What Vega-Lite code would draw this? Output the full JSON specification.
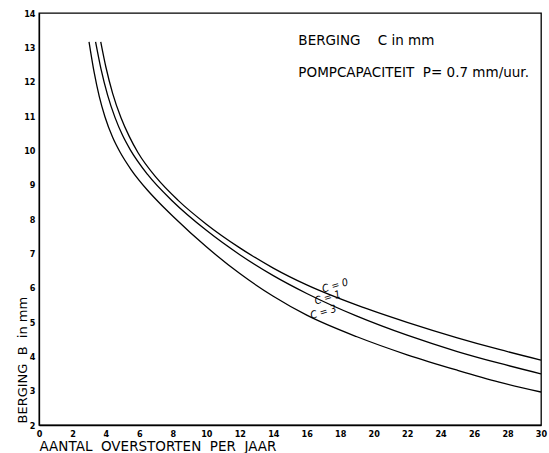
{
  "$schema": "https://vega.github.io/schema/vega-lite/v6.json",
  "width": 502,
  "height": 412,
  "autosize": {"type": "none"},
  "padding": {"left": 39, "top": 13, "right": 8, "bottom": 28},
  "background": "white",
  "config": {
    "view": {"stroke": "black", "strokeWidth": 1.3},
    "font": "DejaVu Sans",
    "axis": {"labelOverlap": false, "labelSeparation": 0, "labelBound": false}
  },
  "datasets": {
    "curves": [
      {"c": "C=0", "x": 3.69, "b": 13.16}, {"c": "C=0", "x": 4.0, "b": 12.42}, {"c": "C=0", "x": 4.4, "b": 11.66},
      {"c": "C=0", "x": 4.9, "b": 10.95}, {"c": "C=0", "x": 5.4, "b": 10.4}, {"c": "C=0", "x": 5.92, "b": 9.93},
      {"c": "C=0", "x": 7, "b": 9.21}, {"c": "C=0", "x": 8.3, "b": 8.55}, {"c": "C=0", "x": 10, "b": 7.85},
      {"c": "C=0", "x": 12, "b": 7.16}, {"c": "C=0", "x": 14, "b": 6.57}, {"c": "C=0", "x": 16, "b": 6.08},
      {"c": "C=0", "x": 19, "b": 5.49}, {"c": "C=0", "x": 22, "b": 4.99}, {"c": "C=0", "x": 25, "b": 4.54},
      {"c": "C=0", "x": 27.5, "b": 4.2}, {"c": "C=0", "x": 30, "b": 3.89},
      {"c": "C=1", "x": 3.38, "b": 13.16}, {"c": "C=1", "x": 3.7, "b": 12.38}, {"c": "C=1", "x": 4.1, "b": 11.61},
      {"c": "C=1", "x": 4.54, "b": 10.96}, {"c": "C=1", "x": 5.0, "b": 10.43}, {"c": "C=1", "x": 5.44, "b": 10.03},
      {"c": "C=1", "x": 6.5, "b": 9.29}, {"c": "C=1", "x": 8, "b": 8.51}, {"c": "C=1", "x": 10, "b": 7.67},
      {"c": "C=1", "x": 12, "b": 6.96}, {"c": "C=1", "x": 14, "b": 6.35}, {"c": "C=1", "x": 16, "b": 5.83},
      {"c": "C=1", "x": 19, "b": 5.17}, {"c": "C=1", "x": 22, "b": 4.615}, {"c": "C=1", "x": 25, "b": 4.14},
      {"c": "C=1", "x": 27.5, "b": 3.8}, {"c": "C=1", "x": 30, "b": 3.49},
      {"c": "C=3", "x": 2.99, "b": 13.16}, {"c": "C=3", "x": 3.3, "b": 12.26}, {"c": "C=3", "x": 3.6, "b": 11.57},
      {"c": "C=3", "x": 3.94, "b": 10.98}, {"c": "C=3", "x": 4.4, "b": 10.38}, {"c": "C=3", "x": 4.84, "b": 9.95},
      {"c": "C=3", "x": 5.5, "b": 9.44}, {"c": "C=3", "x": 6.5, "b": 8.83}, {"c": "C=3", "x": 7.17, "b": 8.48},
      {"c": "C=3", "x": 8, "b": 8.08}, {"c": "C=3", "x": 10, "b": 7.19}, {"c": "C=3", "x": 12, "b": 6.41},
      {"c": "C=3", "x": 14, "b": 5.75}, {"c": "C=3", "x": 16, "b": 5.2}, {"c": "C=3", "x": 19, "b": 4.57},
      {"c": "C=3", "x": 22, "b": 4.045}, {"c": "C=3", "x": 25, "b": 3.595}, {"c": "C=3", "x": 27.5, "b": 3.25},
      {"c": "C=3", "x": 30, "b": 2.96}
    ],
    "curveLabels": [
      {"label": "C = 0", "x": 17.7, "b": 6.05},
      {"label": "C = 1", "x": 17.25, "b": 5.7},
      {"label": "C = 3", "x": 17.0, "b": 5.28}
    ],
    "notes": [
      {"label": "BERGING\u00a0\u00a0\u00a0\u00a0C in mm", "x": 15.5, "b": 13.17},
      {"label": "POMPCAPACITEIT\u00a0\u00a0P=\u00a00.7 mm/uur.", "x": 15.5, "b": 12.24}
    ]
  },
  "encoding": {
    "x": {
      "field": "x", "type": "quantitative",
      "scale": {"domain": [0, 30], "nice": false, "zero": false},
      "axis": {
        "values": [0, 2, 4, 6, 8, 10, 12, 14, 16, 18, 20, 22, 24, 26, 28, 30],
        "labelOverlap": false,
        "grid": false, "ticks": false, "domainColor": "black", "domainWidth": 1.3,
        "labelFont": "DejaVu Sans Condensed", "labelFontWeight": "bold", "labelFontSize": 9,
        "labelColor": "black", "labelPadding": 4, "labelFlush": false,
        "title": "AANTAL\u00a0\u00a0OVERSTORTEN\u00a0\u00a0PER\u00a0\u00a0JAAR",
        "titleFont": "DejaVu Sans", "titleFontWeight": "normal", "titleFontSize": 13.5,
        "titleColor": "black", "titleAnchor": "start", "titleAlign": "left", "titleBaseline": "middle",
        "titleX": 0, "titleY": 21
      }
    },
    "y": {
      "field": "b", "type": "quantitative",
      "scale": {"domain": [2, 14], "nice": false, "zero": false},
      "axis": {
        "values": [2, 3, 4, 5, 6, 7, 8, 9, 10, 11, 12, 13, 14],
        "labelOverlap": false,
        "grid": false, "ticks": false, "domainColor": "black", "domainWidth": 1.3,
        "labelFont": "DejaVu Sans Condensed", "labelFontWeight": "bold", "labelFontSize": 9,
        "labelColor": "black", "labelPadding": 4,
        "title": "BERGING\u00a0\u00a0B\u00a0\u00a0in mm",
        "titleFont": "DejaVu Sans", "titleFontWeight": "normal", "titleFontSize": 13,
        "titleColor": "black", "titleAnchor": "start", "titleAlign": "left", "titleAngle": 270,
        "titleBaseline": "middle",
        "titleX": -17, "titleY": 410
      }
    }
  },
  "layer": [
    {
      "data": {"name": "curves"},
      "mark": {"type": "line", "interpolate": "monotone", "color": "black", "strokeWidth": 1.3, "clip": true},
      "encoding": {
        "detail": {"field": "c", "type": "nominal"}
      }
    },
    {
      "data": {"name": "curveLabels"},
      "mark": {"type": "text", "angle": -16, "fontSize": 10.5, "fontStyle": "italic", "font": "DejaVu Sans Condensed", "color": "black"},
      "encoding": {
        "text": {"field": "label", "type": "nominal"}
      }
    },
    {
      "data": {"name": "notes"},
      "mark": {"type": "text", "align": "left", "baseline": "middle", "fontSize": 13.5, "font": "DejaVu Sans", "color": "black"},
      "encoding": {
        "text": {"field": "label", "type": "nominal"}
      }
    }
  ]
}
